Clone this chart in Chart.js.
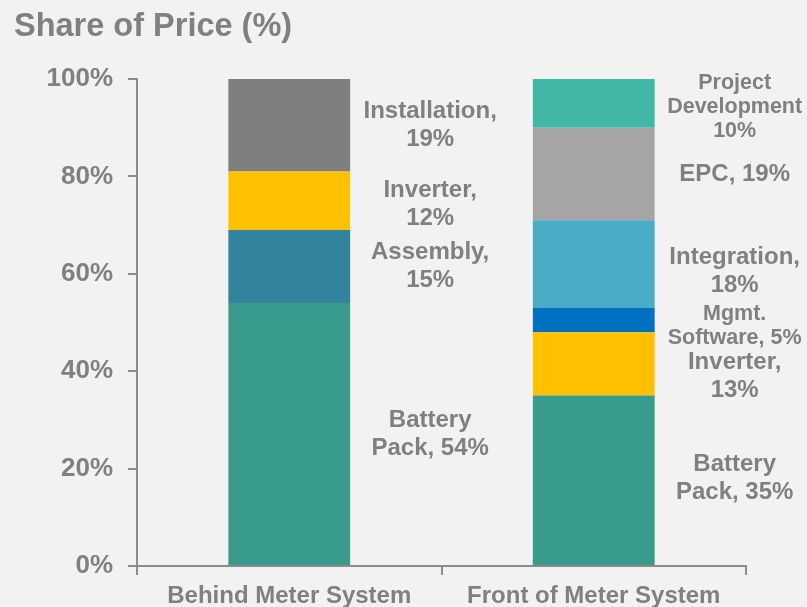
<!DOCTYPE html>
<html>
<head>
<meta charset="utf-8">
<script src="https://cdn.jsdelivr.net/npm/chart.js@4"></script>
<style>
  body { margin: 0; background: #f2f2f2; }
  canvas { display: block; }
</style>
</head>
<body>
<canvas id="priceChart" width="807" height="607"></canvas>
<script>
// Data
const categories = ["Behind Meter System", "Front of Meter System"];
const segmentNames = ["Battery Pack", "Assembly", "Inverter", "Mgmt. Software", "Integration", "Installation", "EPC", "Project Development"];
const batteryPack = [54, 35];
const assembly = [15, null];
const inverter = [12, 13];
const mgmtSoftware = [null, 5];
const integration = [null, 18];
const installation = [19, null];
const epc = [null, 19];
const projectDevelopment = [null, 10];
const yTicks = [0, 20, 40, 60, 80, 100];

const seriesValues = [batteryPack, assembly, inverter, mgmtSoftware, integration, installation, epc, projectDevelopment];
const segmentColors = ["#389b8c", "#31849b", "#ffc000", "#0070c0", "#4bacc6", "#7f7f7f", "#a5a5a5", "#41b8a3"];

// label text lines, {v} is replaced by the value
const labelLines = [
  ["Battery", "Pack, {v}%"],
  ["Assembly,", "{v}%"],
  ["Inverter,", "{v}%"],
  ["Mgmt.", "Software, {v}%"],
  ["Integration,", "{v}%"],
  ["Installation,", "{v}%"],
  ["EPC, {v}%"],
  ["Project", "Development", "{v}%"],
];
const smallLabel = [false, false, false, true, false, false, false, true];
const labelShift = [[0, -2], [0, 0], [4, 12], [0, 6], [0, 7], [0, 0], [0, 0], [0, 4]];

const textGray = "#808080";
const axisGray = "#8c8c8c";
const fontFamily = "'Liberation Sans', Arial, sans-serif";

const titlePlugin = {
  id: "leftTitle",
  afterDraw(chart) {
    const ctx = chart.ctx;
    ctx.save();
    ctx.font = "bold 32.5px " + fontFamily;
    ctx.fillStyle = textGray;
    ctx.textBaseline = "alphabetic";
    ctx.textAlign = "left";
    ctx.fillText("Share of Price (%)", 14, 36);
    ctx.restore();
  },
};

const segmentLabelPlugin = {
  id: "segmentLabels",
  afterDatasetsDraw(chart) {
    const ctx = chart.ctx;
    ctx.save();
    ctx.fillStyle = textGray;
    ctx.textAlign = "center";
    ctx.textBaseline = "middle";
    chart.data.datasets.forEach((ds, i) => {
      const meta = chart.getDatasetMeta(i);
      meta.data.forEach((bar, j) => {
        const v = ds.data[j];
        if (v === null || v === undefined) return;
        const small = smallLabel[i];
        const lh = small ? 24 : 28;
        ctx.font = "bold " + (small ? "21.5px " : "24px ") + fontFamily;
        const lines = labelLines[i].map((t) => t.replace("{v}", v));
        const x = bar.x + bar.width / 2 + 80;
        const yc = (bar.y + bar.base) / 2 + labelShift[i][j];
        const y0 = yc - ((lines.length - 1) * lh) / 2;
        lines.forEach((t, k) => ctx.fillText(t, x, y0 + k * lh));
      });
    });
    ctx.restore();
  },
};

new Chart(document.getElementById("priceChart").getContext("2d"), {
  type: "bar",
  data: {
    labels: categories,
    datasets: seriesValues.map((vals, i) => ({
      label: segmentNames[i],
      data: vals,
      backgroundColor: segmentColors[i],
      borderWidth: 0,
      barPercentage: 0.4,
      categoryPercentage: 1,
    })),
  },
  options: {
    responsive: false,
    animation: false,
    layout: {
      padding: { left: 0, right: 61, top: 79, bottom: 0 },
    },
    plugins: {
      legend: { display: false },
      tooltip: { enabled: false },
    },
    scales: {
      x: {
        stacked: true,
        grid: { drawOnChartArea: false, drawTicks: true, tickLength: 9, color: axisGray, lineWidth: 2 },
        border: { color: axisGray, width: 2 },
        ticks: {
          color: textGray,
          padding: 7,
          font: { family: fontFamily, size: 24, weight: "bold" },
        },
        afterFit: (scale) => { scale.height = 41; },
      },
      y: {
        stacked: true,
        min: 0,
        max: 100,
        afterBuildTicks: (scale) => { scale.ticks = yTicks.map((v) => ({ value: v })); },
        grid: { drawOnChartArea: false, drawTicks: true, tickLength: 9, color: axisGray, lineWidth: 2 },
        border: { color: axisGray, width: 2 },
        ticks: {
          color: textGray,
          padding: 15,
          callback: (value) => value + "%",
          font: { family: fontFamily, size: 26, weight: "bold" },
        },
        afterFit: (scale) => { scale.width = 137; },
      },
    },
  },
  plugins: [titlePlugin, segmentLabelPlugin],
});
</script>
</body>
</html>
